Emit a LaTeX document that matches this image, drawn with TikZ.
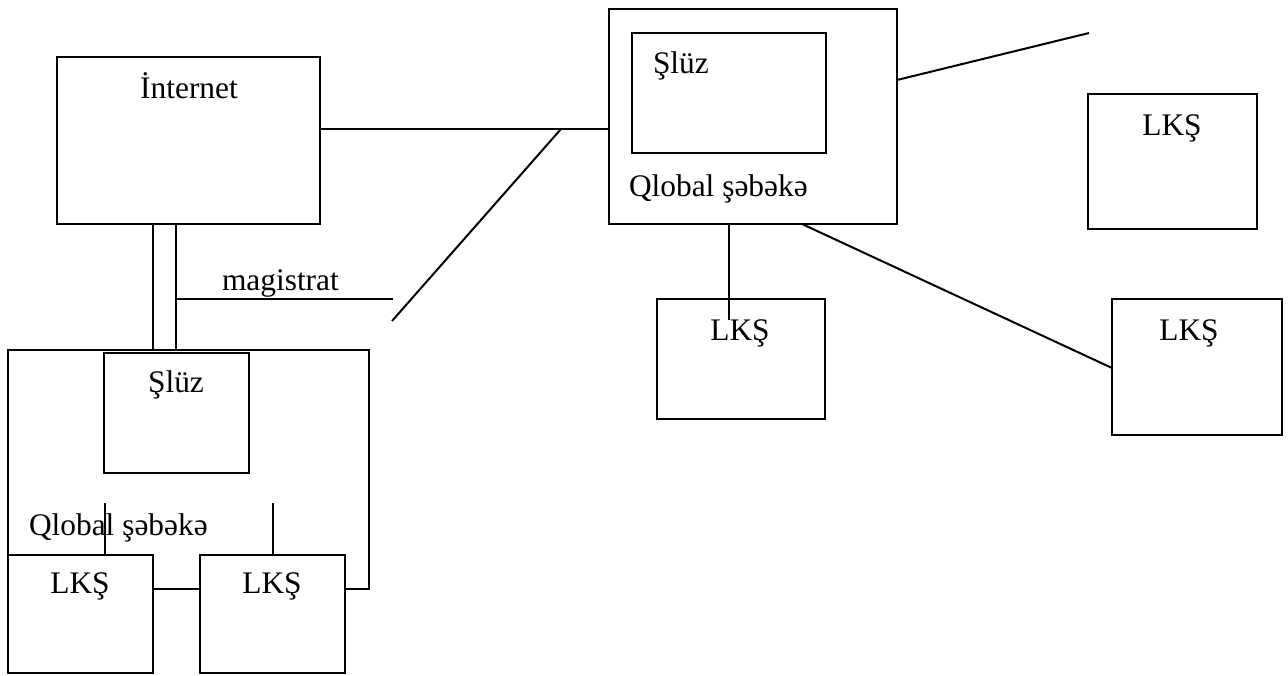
\documentclass[tikz,border=0pt]{standalone}
\usepackage{fontspec}
\setmainfont{Liberation Serif}
\begin{document}
\begin{tikzpicture}[x=1pt,y=-1pt,
  box/.style={draw,rectangle,inner sep=0pt,outer sep=0pt,line width=2.2pt},
  txt/.style={inner sep=0pt,outer sep=0pt,font=\fontsize{31.4}{36}\selectfont},
  wire/.style={line width=2pt}]
\useasboundingbox (0,0) rectangle (1288,675);
% boxes
\node[box,minimum width=263pt,minimum height=167pt] (inet) at (188.5,140.5) {};
\node[box,minimum width=288pt,minimum height=215pt] (qtop) at (753,116.5) {};
\node[box,minimum width=194pt,minimum height=120pt] (slztop) at (729,93) {};
\node[box,minimum width=169pt,minimum height=135pt] (lksA) at (1172.5,161.5) {};
\node[box,minimum width=168pt,minimum height=120pt] (lksB) at (741,359) {};
\node[box,minimum width=170pt,minimum height=136pt] (lksC) at (1197,367) {};
\node[box,minimum width=145pt,minimum height=120pt] (slzlow) at (176.5,413) {};
\node[box,minimum width=145pt,minimum height=118pt] (lks1) at (80.5,614) {};
\node[box,minimum width=145pt,minimum height=118pt] (lks2) at (272.5,614) {};
% texts
\node[txt,anchor=base] (tinet) at (189,98) {İnternet};
\node[txt,anchor=base west] (tslztop) at (653,73) {Şlüz};
\node[txt,anchor=base west] (tqtop) at (629,196) {Qlobal şəbəkə};
\node[txt,anchor=base] (tlksA) at (1172,135) {LKŞ};
\node[txt,anchor=base] (tlksB) at (740,340) {LKŞ};
\node[txt,anchor=base] (tlksC) at (1189,340) {LKŞ};
\node[txt,anchor=base] (tslzlow) at (176,392) {Şlüz};
\node[txt,anchor=base west] (tqlow) at (29,535) {Qlobal şəbəkə};
\node[txt,anchor=base] (tlks1) at (80,593) {LKŞ};
\node[txt,anchor=base] (tlks2) at (272,593) {LKŞ};
\node[txt,anchor=base west] (tmag) at (222,290) {magistrat};
% coordinates
\coordinate (j1) at (561,129);
\coordinate (d1) at (392,321);
\coordinate (v1) at (153,350);
\coordinate (v2) at (176,350);
\coordinate (m1) at (176,299);
\coordinate (m2) at (393,299);
\coordinate (e1) at (1089,33);
\coordinate (e1y) at (0,80);
\coordinate (b1) at (729,320);
\coordinate (q2) at (802,224);
\coordinate (c1) at (0,368);
\coordinate (s1) at (105,503);
\coordinate (s2) at (273,503);
\coordinate (h1) at (0,589);
\coordinate (bigTR) at (369,350);
\coordinate (bigTL) at (8,350);
% connectors
\draw[wire] (inet.east |- j1) -- (qtop.west |- j1);
\draw[wire] (j1) -- (d1);
\draw[wire] (inet.south -| v1) -- (v1);
\draw[wire] (inet.south -| v2) -- (v2);
\draw[wire] (m1) -- (m2);
\draw[wire] (qtop.east |- e1y) -- (e1);
\draw[wire] (slztop.center |- qtop.south) -- (b1);
\draw[wire] (q2 |- qtop.south) -- (lksC.west |- c1);
\draw[wire] (s1) -- (s1 |- lks1.north);
\draw[wire] (s2) -- (s2 |- lks2.north);
\draw[wire] (lks1.east |- h1) -- (lks2.west |- h1);
\draw[line width=2.2pt] (lks2.east |- h1) -- (bigTR |- h1) -- (bigTR) -- (bigTL) -- (bigTL |- lks1.north);
\end{tikzpicture}
\end{document}
